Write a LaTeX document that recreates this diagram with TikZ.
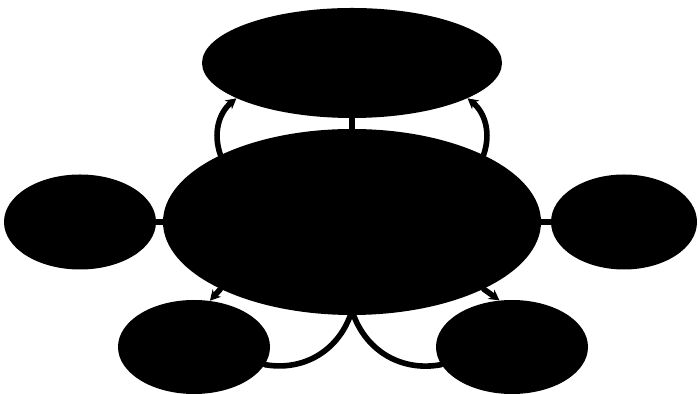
\documentclass[tikz,border=0pt]{standalone}
\usetikzlibrary{arrows.meta,shapes.geometric}

\begin{document}
\begin{tikzpicture}[>={Stealth[length=2.6mm, width=2.8mm]}, line cap=round]
\tikzset{blob/.style={ellipse, fill=black, inner sep=0pt},
         link/.style={line width=1.4mm}}
\useasboundingbox (0,0) rectangle (17.45,9.85);
% ---------- 中心与上方 ----------
\node[blob, minimum width=9.45cm, minimum height=4.65cm] (core) at (8.8,4.3) {};
\node[blob, minimum width=7.5cm, minimum height=2.75cm] (top) at (8.8,8.275) {};
% ---------- 左右两侧 ----------
\node[blob, minimum width=3.8cm, minimum height=2.375cm] (left) at (2.0,4.3) {};
\node[blob, minimum width=3.65cm, minimum height=2.375cm] (right) at (15.6,4.3) {};
% ---------- 下方两个 ----------
\node[blob, minimum width=3.8cm, minimum height=2.35cm] (botl) at (4.85,1.175) {};
\node[blob, minimum width=3.8cm, minimum height=2.35cm] (botr) at (12.8,1.175) {};
% 连线
\draw[link] (core) -- (top);
\draw[link] (core) -- (left);
\draw[link] (core) -- (right);
\draw[link, ->] (core.153) to[bend left=35] (top.197);
\draw[link, ->] (core.27) to[bend right=35] (top.-17);
\draw[link, ->] (core.207) -- (botl.71);
\draw[link, ->] (core.-27) -- (botr.105);
\draw[link] (core.-91) to[bend left=40] (botl.-14);
\draw[link] (core.-89) to[bend right=40] (botr.194);
\end{tikzpicture}
\end{document}
